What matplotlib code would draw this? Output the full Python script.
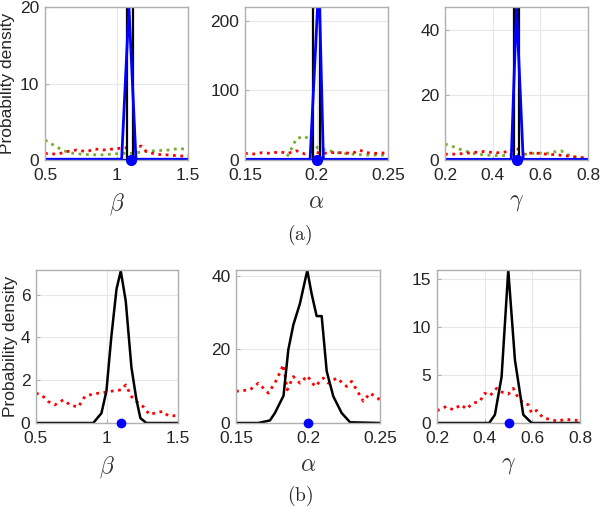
import matplotlib
matplotlib.use("Agg")
import matplotlib.pyplot as plt
import matplotlib.ticker as plticker

plt.rcParams['font.family'] = ['Liberation Sans', 'DejaVu Sans']
plt.rcParams['mathtext.fontset'] = 'cm'

# ---------- (a) top row ----------
# beta
a_beta_black_x = [0.5, 1.071, 1.071, 1.117, 1.117, 1.5]
a_beta_black_y = [0, 0, 20, 20, 0, 0]
a_beta_blue_x = [0.5, 1.036, 1.087, 1.136, 1.5]
a_beta_blue_y = [0.1, 0.1, 20, 0.1, 0.1]
a_beta_green_x = [0.5, 0.558, 0.628, 0.698, 0.767, 0.884, 0.977, 1.047, 1.116, 1.186, 1.279, 1.372, 1.442, 1.5]
a_beta_green_y = [2.6, 1.97, 1.22, 0.87, 0.74, 0.65, 0.79, 0.87, 0.87, 1.09, 1.22, 1.31, 1.53, 1.31]
a_beta_red_x = [0.5, 0.535, 0.593, 0.651, 0.721, 0.791, 0.849, 0.907, 0.977, 1.023, 1.07, 1.116, 1.174, 1.209, 1.279, 1.372, 1.442, 1.5]
a_beta_red_y = [0.87, 0.79, 0.79, 1.09, 1.31, 1.09, 1.44, 1.31, 1.44, 1.53, 1.6, 1.53, 1.83, 1.09, 0.74, 0.65, 0.52, 0.52]

# alpha
a_alpha_black_x = [0.15, 0.1978, 0.1978, 0.2024, 0.2024, 0.25]
a_alpha_black_y = [0, 0, 220, 220, 0, 0]
a_alpha_blue_x = [0.15, 0.1955, 0.2017, 0.2048, 0.25]
a_alpha_blue_y = [1, 1, 260, 1, 1]
a_alpha_green_x = [0.15, 0.178, 0.1826, 0.186, 0.1919, 0.1953, 0.2012, 0.207, 0.214, 0.2233, 0.2349, 0.25]
a_alpha_green_y = [0, 0, 16.7, 31, 34, 28.6, 16.7, 14.3, 10.5, 8.6, 7.1, 7.1]
a_alpha_red_x = [0.15, 0.156, 0.162, 0.168, 0.174, 0.18, 0.186, 0.192, 0.197, 0.204, 0.211, 0.218, 0.225, 0.23, 0.235, 0.242, 0.25]
a_alpha_red_y = [9.5, 8.6, 10.5, 9.5, 11.9, 9.5, 13.3, 8.6, 11.9, 9.5, 10.5, 10.5, 9.5, 14.3, 10.5, 9.5, 10.5]

# gamma
a_gamma_black_x = [0.2, 0.491, 0.491, 0.512, 0.512, 0.8]
a_gamma_black_y = [0, 0, 47, 47, 0, 0]
a_gamma_blue_x = [0.2, 0.478, 0.5, 0.528, 0.8]
a_gamma_blue_y = [0.2, 0.2, 47, 0.2, 0.2]
a_gamma_green_x = [0.2, 0.235, 0.277, 0.319, 0.374, 0.43, 0.472, 0.542, 0.584, 0.625, 0.667, 0.688, 0.709, 0.737, 0.8]
a_gamma_green_y = [4.9, 4.1, 2.9, 2.0, 1.5, 1.3, 1.5, 1.8, 2.2, 2.0, 2.6, 2.8, 1.8, 1.0, 0.5]
a_gamma_red_x = [0.2, 0.249, 0.305, 0.36, 0.416, 0.472, 0.5, 0.528, 0.57, 0.625, 0.681, 0.737, 0.8]
a_gamma_red_y = [1.8, 1.8, 2.2, 2.6, 2.2, 2.6, 3.8, 1.8, 2.2, 1.8, 1.5, 1.0, 0.5]

# ---------- (b) bottom row ----------
b_beta_black_x = [0.5, 0.903, 0.961, 0.996, 1.03, 1.067, 1.097, 1.132, 1.172, 1.207, 1.235, 1.277, 1.5]
b_beta_black_y = [0, 0, 0.46, 1.5, 4.0, 6.26, 7.1, 5.7, 2.6, 1.1, 0.23, 0, 0]
b_beta_red_x = [0.5, 0.54, 0.587, 0.633, 0.692, 0.739, 0.797, 0.844, 0.903, 0.973, 1.043, 1.102, 1.132, 1.172, 1.207, 1.254, 1.3, 1.348, 1.395, 1.43, 1.5]
b_beta_red_y = [1.39, 1.31, 1.0, 0.85, 1.08, 0.85, 0.74, 1.24, 1.36, 1.42, 1.5, 1.55, 1.78, 1.24, 1.0, 0.77, 0.39, 0.49, 0.54, 0.34, 0.34]

b_alpha_black_x = [0.15, 0.1655, 0.1736, 0.177, 0.183, 0.1863, 0.1898, 0.1944, 0.1995, 0.2025, 0.206, 0.2095, 0.213, 0.2176, 0.2234, 0.2292, 0.25]
b_alpha_black_y = [0, 0, 0.7, 2.7, 7.4, 19.8, 26.6, 32.4, 41.4, 35.1, 29, 29, 14, 7.2, 2.7, 0.2, 0]
b_alpha_red_x = [0.15, 0.1597, 0.1655, 0.1725, 0.1782, 0.1829, 0.1856, 0.1898, 0.1944, 0.1995, 0.2049, 0.2106, 0.2141, 0.2199, 0.2269, 0.2303, 0.2384, 0.2431, 0.25]
b_alpha_red_y = [8.6, 9.0, 10.8, 8.1, 11.7, 15.8, 9.0, 12.6, 10.8, 12.8, 9.9, 12.2, 10.8, 12.2, 9.9, 11.3, 5.9, 8.1, 6.3]

b_gamma_black_x = [0.2, 0.419, 0.443, 0.471, 0.499, 0.527, 0.562, 0.597, 0.8]
b_gamma_black_y = [0, 0, 0.86, 4.8, 15.9, 6.55, 0.86, 0, 0]
b_gamma_red_x = [0.2, 0.239, 0.267, 0.302, 0.323, 0.351, 0.38, 0.4, 0.422, 0.45, 0.464, 0.499, 0.52, 0.541, 0.562, 0.583, 0.597, 0.618, 0.646, 0.681, 0.709, 0.737, 0.772, 0.8]
b_gamma_red_y = [1.28, 1.72, 1.38, 1.9, 1.45, 2.07, 2.24, 3.1, 2.83, 3.6, 3.28, 3.0, 3.6, 2.6, 2.07, 1.9, 1.03, 1.3, 0.52, 0.34, 0.17, 0.41, 0.28, 0.28]

true_values = [1.1, 0.2, 0.5]
x_labels = [r'$\beta$', r'$\alpha$', r'$\gamma$']
x_limits = [(0.5, 1.5), (0.15, 0.25), (0.2, 0.8)]
x_ticks = [[0.5, 1, 1.5], [0.15, 0.2, 0.25], [0.2, 0.4, 0.6, 0.8]]
a_ylims = [20, 220, 47]
a_yticks = [[0, 10, 20], [0, 100, 200], [0, 20, 40]]
b_ylims = [7.15, 41.5, 15.9]
b_yticks = [[0, 2, 4, 6], [0, 20, 40], [0, 5, 10, 15]]

a_data = [
    (a_beta_black_x, a_beta_black_y, a_beta_blue_x, a_beta_blue_y, a_beta_green_x, a_beta_green_y, a_beta_red_x, a_beta_red_y),
    (a_alpha_black_x, a_alpha_black_y, a_alpha_blue_x, a_alpha_blue_y, a_alpha_green_x, a_alpha_green_y, a_alpha_red_x, a_alpha_red_y),
    (a_gamma_black_x, a_gamma_black_y, a_gamma_blue_x, a_gamma_blue_y, a_gamma_green_x, a_gamma_green_y, a_gamma_red_x, a_gamma_red_y),
]
b_data = [
    (b_beta_black_x, b_beta_black_y, b_beta_red_x, b_beta_red_y),
    (b_alpha_black_x, b_alpha_black_y, b_alpha_red_x, b_alpha_red_y),
    (b_gamma_black_x, b_gamma_black_y, b_gamma_red_x, b_gamma_red_y),
]

W, H = 600, 507
fig = plt.figure(figsize=(6, 5.07), dpi=100)

a_rects = [(45, 7, 143, 153), (245, 7, 143, 153), (445, 7, 143, 153)]
b_rects = [(36, 270, 142, 153), (236, 270, 144, 153), (437, 270, 143, 153)]

FRAME = '#b0b0b0'
TEXT = '#262626'


def make_axes(rect):
    x, y, w, h = rect
    ax = fig.add_axes([x / W, 1 - (y + h) / H, w / W, h / H])
    for s in ax.spines.values():
        s.set_color(FRAME)
        s.set_linewidth(1.0)
    ax.tick_params(direction='in', length=3, color=FRAME, labelcolor=TEXT, labelsize=12.5)
    ax.tick_params(axis='x', pad=5.5)
    ax.tick_params(axis='y', pad=4)
    ax.grid(True, color='#e8e8e8', linewidth=0.8)
    ax.set_axisbelow(True)
    ax.xaxis.set_major_formatter(plticker.FormatStrFormatter('%g'))
    ax.yaxis.set_major_formatter(plticker.FormatStrFormatter('%g'))
    return ax


for i in range(3):
    ax = make_axes(a_rects[i])
    bx, by, ux, uy, gx, gy, rx, ry = a_data[i]
    ax.plot(gx, gy, color='#77ac30', linestyle=':', linewidth=2)
    ax.plot(rx, ry, color='#ff0000', linestyle=':', linewidth=2)
    ax.plot(bx, by, color='black', linewidth=1.6)
    ax.plot(ux, uy, color='#0000ff', linewidth=2.0)
    ax.plot([true_values[i]], [0], 'o', color='#0000ff', markersize=7, clip_on=False, zorder=5)
    ax.set_xlim(*x_limits[i])
    ax.set_ylim(0, a_ylims[i])
    ax.set_xticks(x_ticks[i])
    ax.set_yticks(a_yticks[i])
    ax.set_xlabel(x_labels[i], fontsize=17, color='#333333', labelpad=6)
    if i == 0:
        ax.set_ylabel('Probability density', fontsize=12.5, color=TEXT, labelpad=4)

for i in range(3):
    ax = make_axes(b_rects[i])
    bx, by, rx, ry = b_data[i]
    ax.plot(rx, ry, color='#ff0000', linestyle=':', linewidth=2)
    ax.plot(bx, by, color='black', linewidth=1.8)
    ax.plot([true_values[i]], [0], 'o', color='#0000ff', markersize=6, clip_on=False, zorder=5)
    ax.set_xlim(*x_limits[i])
    ax.set_ylim(0, b_ylims[i])
    ax.set_xticks(x_ticks[i])
    ax.set_yticks(b_yticks[i])
    ax.set_xlabel(x_labels[i], fontsize=17, color='#333333', labelpad=6)
    if i == 0:
        ax.set_ylabel('Probability density', fontsize=12.5, color=TEXT, labelpad=2)

fig.text(0.5, 1 - 235 / H, r'$\mathrm{(a)}$', ha='center', va='center', fontsize=14, color=TEXT)
fig.text(0.5, 1 - 496 / H, r'$\mathrm{(b)}$', ha='center', va='center', fontsize=14, color=TEXT)

fig.savefig('out.png', dpi=100)
